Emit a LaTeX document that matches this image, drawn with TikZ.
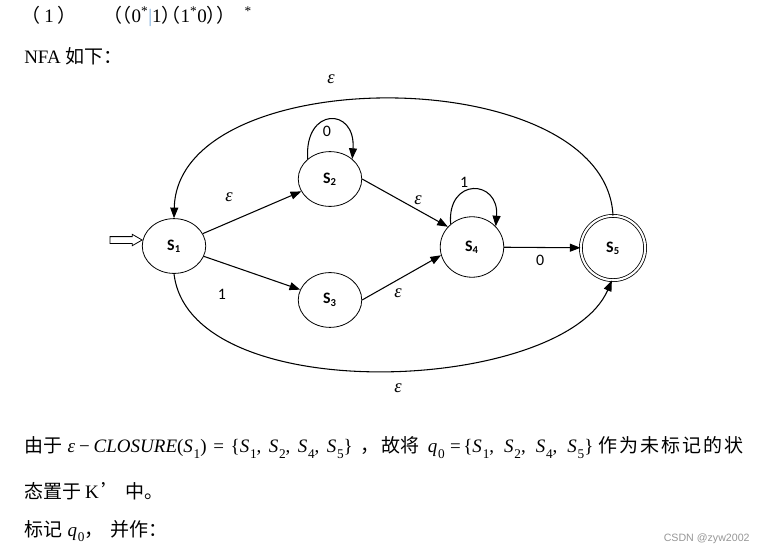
\documentclass[tikz,border=0pt]{standalone}
\usepackage{fontspec}
\setmainfont{Liberation Serif}
\newfontfamily\zhfont{Noto Sans CJK SC}
\newfontfamily\zhhalf[RawFeature=+halt]{Noto Sans CJK SC}
\newfontfamily\calfont{Carlito}
\newfontfamily\wmfont{Liberation Sans}
\usetikzlibrary{shapes.geometric}
\usetikzlibrary{arrows.meta}
\definecolor{barblue}{RGB}{120,170,220}
\definecolor{markgray}{RGB}{150,150,150}
\newcommand{\zh}[1]{{\zhfont #1}}
\newcommand{\zhh}[1]{{\zhhalf #1}}
\newcommand{\ms}[2]{\textit{#1}\kern0.6pt\raisebox{-0.28em}{\fontsize{10}{10}\selectfont #2}}

\begin{document}
\begin{tikzpicture}[
    state/.style={ellipse, draw, line width=0.6pt, minimum width=1.68cm, minimum height=1.45cm, inner sep=0pt, font=\calfont\fontsize{12}{14}\selectfont\bfseries},
    accept/.style={circle, draw, double, double distance=1.6pt, line width=0.6pt, minimum size=1.70cm, inner sep=0pt, font=\calfont\fontsize{12}{14}\selectfont\bfseries},
    edge/.style={line width=0.8pt, -{Triangle[length=8pt,width=6pt]}},
    lab/.style={inner sep=0pt, font=\calfont\fontsize{12}{14}\selectfont},
    eps/.style={inner sep=0pt, font=\fontsize{14}{16}\selectfont\itshape},
    txt/.style={anchor=base west, inner sep=0pt, font=\fontsize{14.3}{17}\selectfont}]

    \useasboundingbox (0,0) rectangle (20.214,-14.631);

    % text above the automaton
    \node[txt] (head) at (0.635,-0.582) {\hspace{5pt}\zhh{（}\hspace{3pt}1\hspace{3pt}\zhh{）}\hspace{34pt}\zhh{（（}0\textsuperscript{*}{\color{barblue}|}1\zhh{）（}1\textsuperscript{*}0\zhh{））}\hspace{14pt}\textsuperscript{*}};
    \node[txt] (nfa) at (0.635,-1.693) {NFA \zh{如下：}};

    % states
    \node[state] (s1) at (4.604,-6.509) {S\textsubscript{1}};
    \node[state] (s2) at (8.731,-4.736) {S\textsubscript{2}};
    \node[state] (s3) at (8.731,-7.937) {S\textsubscript{3}};
    \node[state, minimum height=1.6cm] (s4) at (12.488,-6.535) {S\textsubscript{4}};
    \node[accept] (s5) at (16.219,-6.562) {S\textsubscript{5}};

    % start arrow
    \draw[line width=0.6pt] (2.91,-6.26) -- (3.50,-6.26) -- (3.50,-6.20) -- (3.76,-6.35) -- (3.50,-6.50) -- (3.50,-6.44) -- (2.91,-6.44) -- cycle;

    % transitions
    \draw[edge] (s1) -- (s2);
    \draw[edge] (s1) -- (s3);
    \draw[edge] (s2.east) -- (s4.140);
    \draw[edge] (s3.east) -- (s4.195);
    \draw[edge] (s4) -- (s5);
    \draw[edge] (s2.138) .. controls +(-0.1,1.38) and +(0.1,1.38) .. (s2.42);
    \draw[edge] (s4.133) .. controls +(-0.1,1.25) and +(0.1,1.25) .. (s4.41);
    \draw[edge] (s5.north) .. controls +(-0.2,4.1) and +(0.1,4.2) .. (s1.north);
    \draw[edge] (s1.south) .. controls +(0.42,-3.6) and +(-1.3,-3.0) .. (s5.268);

    % labels
    \node[eps] (l12) at (6.06,-5.21) {ε};
    \node[lab] (l13) at (5.87,-7.80) {1};
    \node[eps] (l24) at (11.06,-5.29) {ε};
    \node[eps] (l34) at (10.53,-7.75) {ε};
    \node[lab] (l45) at (14.29,-6.88) {0};
    \node[lab] (l22) at (8.65,-3.47) {0};
    \node[lab] (l44) at (12.28,-4.82) {1};
    \node[eps] (l51) at (8.76,-2.09) {ε};
    \node[eps] (l15) at (10.53,-10.27) {ε};

    % text below
    \node[txt] (line1) at (0.635,-11.985) {\zh{由于}\hspace{4pt}\textit{ε}\hspace{3pt}−\hspace{3pt}\textit{CLOSURE}(\ms{S}{1})\hspace{5pt}=\hspace{5pt}\{\ms{S}{1},\hspace{5.5pt}\ms{S}{2},\hspace{5.5pt}\ms{S}{4},\hspace{5.5pt}\ms{S}{5}\}\hspace{6pt}\zh{，\hspace{1.5pt}故将}\hspace{6pt}\ms{q}{0}\hspace{4pt}=\hspace{2pt}\{\ms{S}{1},\hspace{7.5pt}\ms{S}{2},\hspace{7.5pt}\ms{S}{4},\hspace{7.5pt}\ms{S}{5}\}\hspace{4pt}\zh{作\hspace{1.5pt}为\hspace{1.5pt}未\hspace{1.5pt}标\hspace{1.5pt}记\hspace{1.5pt}的\hspace{1.5pt}状}};
    \node[txt] (line2) at (0.635,-13.176) {\zh{态置于}\hspace{3pt}K\hspace{2pt}\zh{’\hspace{4pt}中。}};
    \node[txt] (line3) at (0.635,-14.182) {\zh{标记}\hspace{4pt}\ms{q}{0}\zh{，\hspace{5pt}并作：}};
    \node[anchor=base east, inner sep=0pt, text=markgray, font=\wmfont\fontsize{8}{10}\selectfont] (mark) at (19.84,-14.314) {CSDN @zyw2002};
\end{tikzpicture}
\end{document}
